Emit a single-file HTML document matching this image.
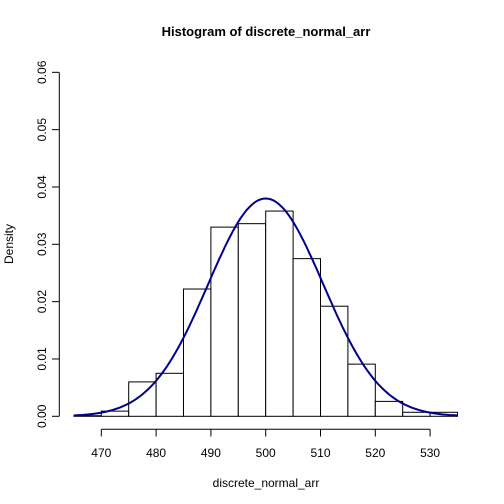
<!DOCTYPE html>
<html><head><meta charset="utf-8"><style>
html,body{margin:0;padding:0;background:#fff}
svg{display:block;font-family:"Liberation Sans",Arial,sans-serif}
</style></head><body>
<svg id="chart" width="504" height="504" viewBox="0 0 504 504">
<text x="266" y="36" text-anchor="middle" font-size="13" font-weight="bold">Histogram of discrete_normal_arr</text>
<text x="266" y="487" text-anchor="middle" font-size="12">discrete_normal_arr</text>
<text transform="translate(13,244) rotate(-90)" text-anchor="middle" font-size="12">Density</text>
<g id="bars"></g>
<g id="xaxis"></g>
<g id="yaxis"></g>
<path id="curve" fill="none" stroke="#00008b" stroke-width="2"/>
</svg>
<script>
const binStarts=[465,470,475,480,485,490,495,500,505,510,515,520,525,530];
const densities=[0.0001,0.0009,0.006,0.0075,0.0222,0.033,0.0336,0.0358,0.0275,0.0192,0.0091,0.0026,0.0007,0.0007];
const xTicks=[470,480,490,500,510,520,530];
const yTicks=["0.00","0.01","0.02","0.03","0.04","0.05","0.06"];
const curveMean=500, curveSd=10.5;
const binWidth=5;
const NS="http://www.w3.org/2000/svg";
const sx=v=>101.3+(v-470)*5.48;
const sy=v=>416.3-v*5733;
function mk(tag,attrs,parent){const e=document.createElementNS(NS,tag);for(const k in attrs)e.setAttribute(k,attrs[k]);parent.appendChild(e);return e;}
const bars=document.getElementById('bars');
binStarts.forEach((b,i)=>{
 const r=mk('rect',{x:sx(b),y:sy(densities[i]),width:sx(b+binWidth)-sx(b),height:sy(0)-sy(densities[i]),fill:'#fff',stroke:'#000','stroke-width':1},bars);
 
 
});
const xa=document.getElementById('xaxis');
mk('line',{x1:sx(xTicks[0]),x2:sx(xTicks[xTicks.length-1]),y1:429.3,y2:429.3,stroke:'#000'},xa);
xTicks.forEach(t=>{
 mk('line',{x1:sx(t),x2:sx(t),y1:429.3,y2:436.5,stroke:'#000'},xa);
 const tx=mk('text',{x:sx(t),y:457,'text-anchor':'middle','font-size':12},xa);tx.textContent=t;
 
 
});
const ya=document.getElementById('yaxis');
mk('line',{x1:59.3,x2:59.3,y1:sy(0),y2:sy(0.06),stroke:'#000'},ya);
yTicks.forEach(t=>{
 const v=parseFloat(t);
 mk('line',{x1:52,x2:59.3,y1:sy(v),y2:sy(v),stroke:'#000'},ya);
 const tx=mk('text',{transform:`translate(46,${sy(v)}) rotate(-90)`,'text-anchor':'middle','font-size':12},ya);tx.textContent=t;
 
 
});
let d='';
for(let x=465;x<=535;x+=0.5){
 const y=Math.exp(-0.5*((x-curveMean)/curveSd)**2)/(curveSd*Math.sqrt(2*Math.PI));
 d+=(d?'L':'M')+sx(x).toFixed(1)+','+sy(y).toFixed(1);
}
document.getElementById('curve').setAttribute('d',d);
</script>
</body></html>
